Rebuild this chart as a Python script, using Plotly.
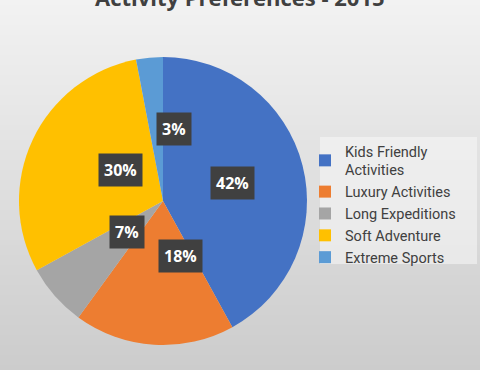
import math
import plotly.graph_objects as go

categories = ["Kids Friendly<br>Activities", "Luxury Activities", "Long Expeditions",
              "Soft Adventure", "Extreme Sports"]
values = [42, 18, 7, 30, 3]
colors = ["#4472C4", "#ED7D31", "#A5A5A5", "#FFC000", "#5B9BD5"]
title_text = "Activity Preferences - 2015"

W, H = 480, 370
cx_px, cy_px, R_px = 163, 201, 144

dom_x = [(cx_px - R_px) / W, (cx_px + R_px) / W]
dom_y = [1 - (cy_px + R_px) / H, 1 - (cy_px - R_px) / H]

fig = go.Figure(go.Pie(
    labels=categories, values=values, sort=False, direction="clockwise", rotation=0,
    marker=dict(colors=colors, line=dict(width=0)),
    textinfo="none", hoverinfo="label+percent",
    domain=dict(x=dom_x, y=dom_y),
))

# background gradient bands
shapes = []
n = 74
top = (242, 242, 242)
bot = (204, 204, 204)
for i in range(n):
    t = i / (n - 1)
    c = tuple(round(top[k] + (bot[k] - top[k]) * t) for k in range(3))
    shapes.append(dict(type="rect", xref="paper", yref="paper", x0=0, x1=1,
                       y0=1 - (i + 1) / n, y1=1 - i / n, layer="below",
                       fillcolor="rgb(%d,%d,%d)" % c, line=dict(width=0)))
# legend panel
shapes.append(dict(type="rect", xref="paper", yref="paper", x0=320 / W, x1=477 / W,
                   y0=1 - 264 / H, y1=1 - 137 / H, layer="below",
                   fillcolor="rgba(248,248,248,0.55)", line=dict(width=0)))

# percentage labels derived from values
annotations = []
total = sum(values)
cum = 0
for v in values:
    mid = (cum + v / 2) / total * 2 * math.pi
    cum += v
    x = (cx_px + 0.5 * R_px * math.sin(mid)) / W
    y = 1 - (cy_px - 0.5 * R_px * math.cos(mid)) / H
    annotations.append(dict(x=x, y=y, xref="paper", yref="paper", showarrow=False,
                            text="<b>%d%%</b>" % round(v / total * 100),
                            font=dict(family="Open Sans", size=16, color="white"),
                            bgcolor="#404040", borderpad=5))

annotations.append(dict(x=0.5, y=1 - 14 / H, xref="paper", yref="paper", showarrow=False,
                        yanchor="bottom", text="<b>" + title_text + "</b>",
                        font=dict(family="Open Sans", size=22, color="#404040")))

fig.update_layout(
    width=W, height=H, margin=dict(l=0, r=0, t=0, b=0),
    paper_bgcolor="#e6e6e6", showlegend=True,
    legend=dict(x=305 / W, y=1 - 135 / H, xanchor="left", yanchor="top",
                bgcolor="rgba(0,0,0,0)",
                font=dict(family="Roboto", size=14.5, color="#404040"),
                itemwidth=30, tracegroupgap=0),
    shapes=shapes, annotations=annotations,
)

fig.write_html("out.html", config={"displayModeBar": False})
with open("out.html", encoding="utf-8") as f:
    html = f.read()
html = html.replace("<body>", '<body style="margin:0;padding:0;overflow:hidden">', 1)
with open("out.html", "w", encoding="utf-8") as f:
    f.write(html)
